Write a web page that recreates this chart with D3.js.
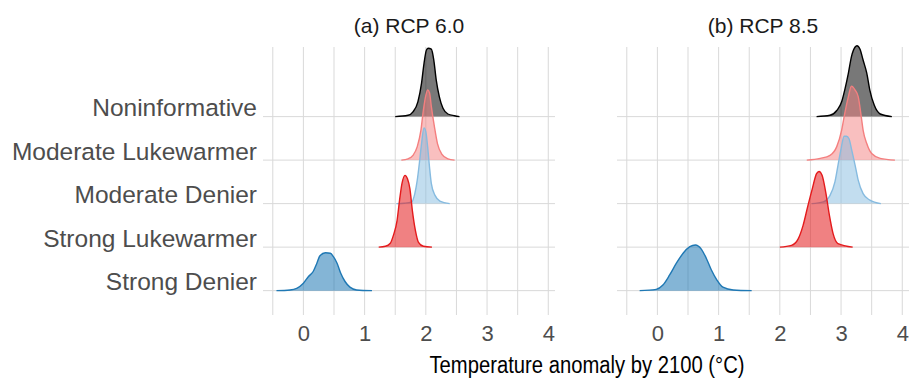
<!DOCTYPE html>
<html>
<head>
<meta charset="utf-8">
<script src="https://cdn.jsdelivr.net/npm/d3@7"></script>
<style>
  body { margin: 0; background: #fff; }
  text { font-family: "Liberation Sans", Arial, Helvetica, sans-serif; }
</style>
</head>
<body>
<svg id="chart" width="909" height="381"></svg>
<script>
// categories, top row first
const categories = ["Noninformative", "Moderate Lukewarmer", "Moderate Denier", "Strong Lukewarmer", "Strong Denier"];
const panelTitles = ["(a) RCP 6.0", "(b) RCP 8.5"];
const xTicks = [0, 1, 2, 3, 4];
const xGrid = [-0.5, 0, 0.5, 1, 1.5, 2, 2.5, 3, 3.5, 4];
const xTitle = "Temperature anomaly by 2100 (°C)";

// densities (x in °C, height in row units)
// RCP 6.0
const rcp60NoninfX = [1.50, 1.71, 1.79, 1.87, 1.93, 1.97, 2.01, 2.04, 2.09, 2.13, 2.17, 2.22, 2.28, 2.36, 2.47, 2.55];
const rcp60NoninfD = [0, 0.03, 0.11, 0.34, 0.77, 1.22, 1.53, 1.57, 1.55, 1.30, 0.84, 0.46, 0.19, 0.06, 0.02, 0];
const rcp60ModLukeX = [1.60, 1.71, 1.79, 1.86, 1.92, 1.96, 2.00, 2.03, 2.06, 2.09, 2.14, 2.19, 2.26, 2.36, 2.47];
const rcp60ModLukeD = [0, 0.03, 0.11, 0.31, 0.69, 1.15, 1.49, 1.61, 1.55, 1.23, 0.77, 0.38, 0.14, 0.03, 0];
const rcp60ModDenX = [1.52, 1.65, 1.77, 1.82, 1.86, 1.90, 1.93, 1.97, 2.00, 2.03, 2.06, 2.09, 2.15, 2.23, 2.39];
const rcp60ModDenD = [0, 0.01, 0.04, 0.23, 0.54, 1.00, 1.38, 1.74, 1.65, 1.30, 0.84, 0.46, 0.19, 0.06, 0];
const rcp60StrLukeX = [1.23, 1.34, 1.42, 1.47, 1.53, 1.57, 1.61, 1.66, 1.70, 1.74, 1.78, 1.83, 1.88, 1.96, 2.10];
const rcp60StrLukeD = [0, 0.02, 0.09, 0.27, 0.61, 1.07, 1.46, 1.65, 1.57, 1.34, 0.84, 0.38, 0.11, 0.02, 0];
const rcp60StrDenX = [-0.44, -0.22, -0.11, 0, 0.08, 0.16, 0.22, 0.27, 0.36, 0.44, 0.49, 0.55, 0.61, 0.68, 0.76, 0.87, 1.12];
const rcp60StrDenD = [0, 0.016, 0.053, 0.17, 0.32, 0.44, 0.63, 0.80, 0.87, 0.86, 0.78, 0.63, 0.40, 0.21, 0.08, 0.016, 0];
// RCP 8.5
const rcp85NoninfX = [2.60, 2.82, 2.93, 3.01, 3.06, 3.12, 3.17, 3.23, 3.26, 3.31, 3.36, 3.42, 3.47, 3.54, 3.64, 3.83];
const rcp85NoninfD = [0, 0.03, 0.14, 0.34, 0.61, 1.00, 1.38, 1.60, 1.63, 1.55, 1.30, 1.00, 0.61, 0.27, 0.06, 0];
const rcp85ModLukeX = [2.44, 2.66, 2.82, 2.93, 3.01, 3.06, 3.12, 3.17, 3.23, 3.28, 3.33, 3.36, 3.42, 3.50, 3.64, 3.88];
const rcp85ModLukeD = [0, 0.04, 0.11, 0.31, 0.69, 1.07, 1.46, 1.70, 1.61, 1.46, 1.00, 0.69, 0.38, 0.15, 0.04, 0];
const rcp85ModDenX = [2.52, 2.71, 2.82, 2.90, 2.95, 3.00, 3.05, 3.09, 3.13, 3.17, 3.23, 3.28, 3.36, 3.47, 3.65];
const rcp85ModDenD = [0, 0.04, 0.19, 0.50, 0.88, 1.26, 1.55, 1.55, 1.49, 1.26, 0.88, 0.54, 0.23, 0.08, 0];
const rcp85StrLukeX = [2.00, 2.19, 2.30, 2.38, 2.46, 2.53, 2.60, 2.64, 2.69, 2.75, 2.81, 2.87, 2.95, 3.19];
const rcp85StrLukeD = [0, 0.04, 0.19, 0.50, 0.96, 1.34, 1.69, 1.74, 1.65, 1.26, 0.73, 0.31, 0.08, 0];
const rcp85StrDenX = [-0.29, -0.02, 0.09, 0.20, 0.31, 0.42, 0.53, 0.62, 0.72, 0.80, 0.88, 0.97, 1.07, 1.24, 1.54];
const rcp85StrDenD = [0, 0.03, 0.13, 0.36, 0.63, 0.86, 1.01, 1.05, 0.95, 0.74, 0.48, 0.25, 0.08, 0.016, 0];

const panelCurves = [
  [[rcp60NoninfX, rcp60NoninfD], [rcp60ModLukeX, rcp60ModLukeD], [rcp60ModDenX, rcp60ModDenD],
   [rcp60StrLukeX, rcp60StrLukeD], [rcp60StrDenX, rcp60StrDenD]],
  [[rcp85NoninfX, rcp85NoninfD], [rcp85ModLukeX, rcp85ModLukeD], [rcp85ModDenX, rcp85ModDenD],
   [rcp85StrLukeX, rcp85StrLukeD], [rcp85StrDenX, rcp85StrDenD]]
];

// styles
const lineColors = ["#000000", "#f47f7f", "#86bbe0", "#e41a1c", "#1f78b4"];
const fillOpacity = [0.53, 0.5, 0.5, 0.55, 0.55];
const gridColor = "#d9d9d9";
const labelColor = "#4d4d4d";

const svg = d3.select("#chart");
const panelX = [[263, 555], [617, 909]];
const plotTop = 47, plotBottom = 315;

// row index: Strong Denier = 0 ... Noninformative = 4
const rowOf = i => categories.length - 1 - i;
const y = d3.scaleLinear().domain([-0.56, 5.60]).range([plotBottom, plotTop]);

panelTitles.forEach((title, p) => {
  const x = d3.scaleLinear().domain([-0.66, 4.11]).range(panelX[p]);
  const g = svg.append("g");

  // grid
  g.selectAll("line.vgrid").data(xGrid).enter().append("line")
    .attr("x1", d => x(d)).attr("x2", d => x(d))
    .attr("y1", plotTop).attr("y2", plotBottom)
    .attr("stroke", gridColor).attr("stroke-width", 1);
  g.selectAll("line.hgrid").data(categories).enter().append("line")
    .attr("x1", panelX[p][0]).attr("x2", panelX[p][1])
    .attr("y1", (d, i) => y(rowOf(i))).attr("y2", (d, i) => y(rowOf(i)))
    .attr("stroke", gridColor).attr("stroke-width", 1);

  // ridges, top row drawn first
  categories.forEach((cat, i) => {
    const [xs, ds] = panelCurves[p][i];
    const pts = xs.map((v, k) => [v, ds[k]]);
    const base = rowOf(i);
    const area = d3.area()
      .x(d => x(d[0]))
      .y0(y(base))
      .y1(d => y(base + d[1]))
      .curve(d3.curveMonotoneX);
    const line = d3.line()
      .x(d => x(d[0]))
      .y(d => y(base + d[1]))
      .curve(d3.curveMonotoneX);
    g.append("path").datum(pts)
      .attr("d", area)
      .attr("fill", lineColors[i])
      .attr("fill-opacity", fillOpacity[i]);
    g.append("path").datum(pts)
      .attr("d", line)
      .attr("fill", "none")
      .attr("stroke", lineColors[i])
      .attr("stroke-width", 1.4);
  });

  // x axis
  const ax = g.append("g")
    .attr("transform", "translate(0," + plotBottom + ")")
    .call(d3.axisBottom(x).tickValues(xTicks).tickSize(0).tickPadding(10).tickFormat(d3.format("d")));
  ax.select(".domain").remove();
  ax.selectAll("text")
    .attr("fill", labelColor)
    .style("font-size", "22px")
    .style("font-family", "'Liberation Sans', Arial, sans-serif");

  // panel title
  svg.append("text")
    .attr("x", (panelX[p][0] + panelX[p][1]) / 2)
    .attr("y", 33)
    .attr("text-anchor", "middle")
    .attr("fill", "#1a1a1a")
    .style("font-size", "21px")
    .text(title);
});

// y axis labels
const yAxis = svg.append("g")
  .attr("transform", "translate(263,0)")
  .call(d3.axisLeft(y)
    .tickValues(categories.map((c, i) => rowOf(i)))
    .tickFormat(r => categories[categories.length - 1 - r])
    .tickSize(0).tickPadding(6));
yAxis.select(".domain").remove();
yAxis.selectAll("text")
  .attr("dy", "-1")
  .attr("fill", labelColor)
  .style("font-size", "24.5px")
  .style("font-family", "'Liberation Sans', Arial, sans-serif");

// x axis title
svg.append("text")
  .attr("x", 587)
  .attr("y", 373)
  .attr("text-anchor", "middle")
  .attr("fill", "#000")
  .attr("textLength", 315)
  .attr("lengthAdjust", "spacingAndGlyphs")
  .style("font-size", "23px")
  .text(xTitle);
</script>
</body>
</html>
